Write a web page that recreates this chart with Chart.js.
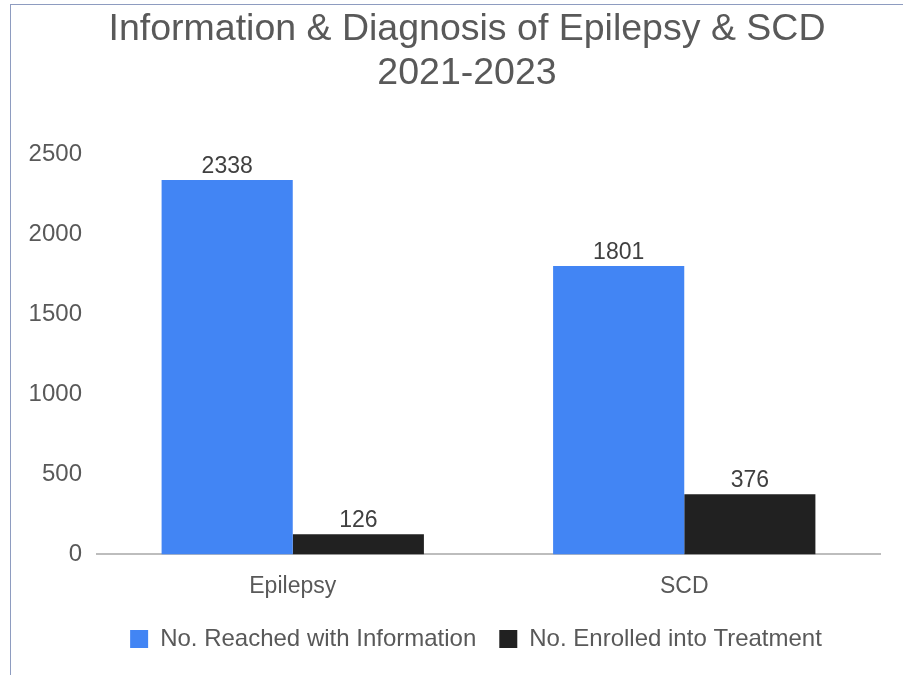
<!DOCTYPE html>
<html>
<head>
<meta charset="utf-8">
<script src="https://cdn.jsdelivr.net/npm/chart.js@4.4.1/dist/chart.umd.min.js"></script>
<style>
  html, body { margin: 0; padding: 0; background: #ffffff; }
  #wrap { position: relative; width: 903px; height: 675px; overflow: hidden; }
  #frameTop { position: absolute; left: 10px; top: 4px; width: 893px; height: 0; border-top: 1px solid #8e9cc0; }
  #frameLeft { position: absolute; left: 10px; top: 4px; width: 0; height: 671px; border-left: 1px solid #8e9cc0; }
  canvas { position: absolute; left: 0; top: 0; }
</style>
</head>
<body>
<div id="wrap">
  <canvas id="c" width="903" height="675"></canvas>
  <div id="frameTop"></div>
  <div id="frameLeft"></div>
</div>
<script>
const categories = ["Epilepsy", "SCD"];
const reachedValues = [2338, 1801];
const enrolledValues = [126, 376];
const seriesNames = ["No. Reached with Information", "No. Enrolled into Treatment"];
const titleLines = ["Information & Diagnosis of Epilepsy & SCD", "2021-2023"];
const yTicks = [0, 500, 1000, 1500, 2000, 2500];

const FONT = "'Liberation Sans', Arial, sans-serif";
const TEXT = "#595959";

const valueLabels = {
  id: 'valueLabels',
  afterDatasetsDraw(chart) {
    const ctx = chart.ctx;
    ctx.save();
    ctx.font = "23px " + FONT;
    ctx.fillStyle = "#404040";
    ctx.textAlign = "center";
    ctx.textBaseline = "bottom";
    chart.data.datasets.forEach((ds, di) => {
      const meta = chart.getDatasetMeta(di);
      meta.data.forEach((bar, i) => {
        ctx.fillText(String(ds.data[i]), bar.x, bar.y - 2);
      });
    });
    ctx.restore();
  }
};

const chartTitle = {
  id: 'chartTitle',
  afterDraw(chart) {
    const ctx = chart.ctx;
    ctx.save();
    ctx.font = "37.5px " + FONT;
    ctx.fillStyle = TEXT;
    ctx.textAlign = "center";
    ctx.textBaseline = "middle";
    ctx.fillText(titleLines[0], 467, 30);
    ctx.fillText(titleLines[1], 467, 74);
    ctx.restore();
  }
};

const shiftLegend = {
  id: 'shiftLegend',
  afterLayout(chart) {
    const lg = chart.legend;
    if (lg) {
      lg.left += 31;
      lg.right += 31;
      lg.top -= 14;
      lg.bottom -= 14;
    }
  }
};

new Chart(document.getElementById('c'), {
  type: 'bar',
  data: {
    labels: categories,
    datasets: [
      { label: seriesNames[0], data: reachedValues, backgroundColor: '#4285f4', borderWidth: 0 },
      { label: seriesNames[1], data: enrolledValues, backgroundColor: '#212121', borderWidth: 0 }
    ]
  },
  options: {
    responsive: false,
    animation: false,
    layout: { padding: { left: 10, right: 23, top: 154, bottom: 0 } },
    datasets: { bar: { categoryPercentage: 0.67, barPercentage: 1.0 } },
    plugins: {
      title: { display: false },
      legend: {
        position: 'bottom',
        labels: {
          color: TEXT,
          font: { family: FONT, size: 24 },
          boxWidth: 18,
          boxHeight: 18,
          padding: 23
        }
      },
      tooltip: { enabled: false }
    },
    scales: {
      x: {
        grid: { display: false, drawTicks: false },
        border: { display: true, color: '#bdbdbd', width: 2 },
        ticks: { color: TEXT, font: { family: FONT, size: 23 }, padding: 18 }
      },
      y: {
        min: 0,
        max: 2500,
        afterBuildTicks(scale) { scale.ticks = yTicks.map(v => ({ value: v })); },
        afterFit(scale) { scale.width = 87; },
        grid: { display: false, drawTicks: false },
        border: { display: false },
        ticks: { color: TEXT, font: { family: FONT, size: 24 }, padding: 15, callback: (v) => String(v) }
      }
    }
  },
  plugins: [valueLabels, chartTitle, shiftLegend]
});
</script>
</body>
</html>
